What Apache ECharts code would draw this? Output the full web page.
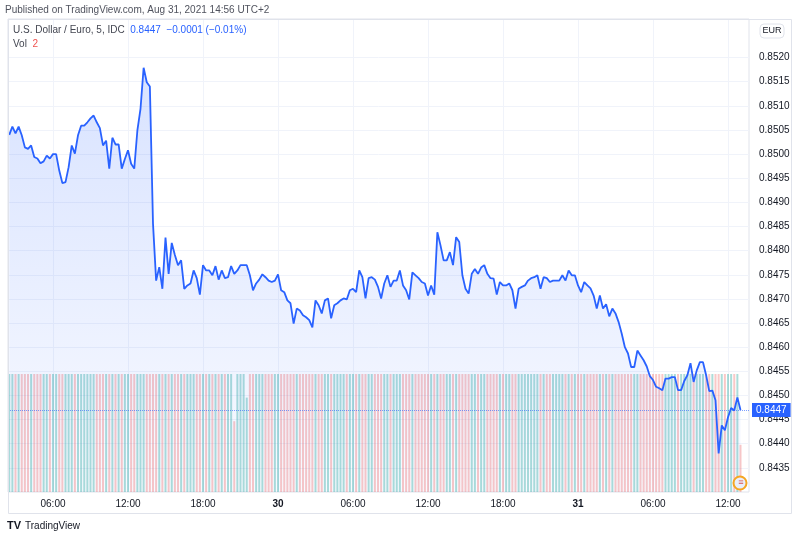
<!DOCTYPE html>
<html>
<head>
<meta charset="utf-8">
<script src="https://cdn.jsdelivr.net/npm/echarts@6/dist/echarts.min.js"></script>
<style>html,body{margin:0;padding:0;background:#fff}#chart{width:800px;height:539px}</style>
</head>
<body>
<div id="chart"></div>
<script>
var mychart = echarts.init(document.getElementById('chart'));

// 15-minute samples, hours counted from Aug 29 00:00
var startHour = 2.5;
var stepHours = 0.25;
// prettier-ignore
var prices = [
    0.85040, 0.85057, 0.85043, 0.85057, 0.85039, 0.85014, 0.85011, 0.85018, 0.84994, 0.84991,
    0.84981, 0.84985, 0.84997, 0.84991, 0.85000, 0.85000, 0.84966, 0.84940, 0.84942, 0.84973,
    0.85018, 0.85001, 0.85039, 0.85059, 0.85059, 0.85066, 0.85074, 0.85080, 0.85066, 0.85054,
    0.85018, 0.85028, 0.84970, 0.85034, 0.85020, 0.85020, 0.84970, 0.84990, 0.85008, 0.84980,
    0.84970, 0.85049, 0.85094, 0.85179, 0.85149, 0.85140, 0.84856, 0.84738, 0.84766, 0.84721,
    0.84827, 0.84752, 0.84816, 0.84791, 0.84770, 0.84780, 0.84721, 0.84728, 0.84732, 0.84759,
    0.84743, 0.84709, 0.84770, 0.84759, 0.84759, 0.84749, 0.84768, 0.84740, 0.84759, 0.84743,
    0.84745, 0.84768, 0.84752, 0.84759, 0.84770, 0.84770, 0.84770, 0.84749, 0.84718, 0.84732,
    0.84740, 0.84751, 0.84745, 0.84738, 0.84735, 0.84738, 0.84751, 0.84718, 0.84714, 0.84697,
    0.84691, 0.84649, 0.84680, 0.84676, 0.84666, 0.84662, 0.84656, 0.84641, 0.84697, 0.84687,
    0.84670, 0.84697, 0.84701, 0.84660, 0.84687, 0.84691, 0.84697, 0.84701, 0.84699, 0.84718,
    0.84721, 0.84714, 0.84759, 0.84745, 0.84701, 0.84743, 0.84745, 0.84740, 0.84725, 0.84701,
    0.84732, 0.84749, 0.84725, 0.84738, 0.84738, 0.84759, 0.84728, 0.84718, 0.84699, 0.84755,
    0.84749, 0.84743, 0.84735, 0.84732, 0.84707, 0.84728, 0.84709, 0.84838, 0.84811, 0.84780,
    0.84780, 0.84797, 0.84770, 0.84828, 0.84818, 0.84749, 0.84721, 0.84711, 0.84752, 0.84762,
    0.84752, 0.84765, 0.84770, 0.84752, 0.84743, 0.84742, 0.84709, 0.84735, 0.84728, 0.84728,
    0.84732, 0.84718, 0.84680, 0.84721, 0.84725, 0.84728, 0.84738, 0.84743, 0.84745, 0.84749,
    0.84721, 0.84745, 0.84743, 0.84735, 0.84738, 0.84738, 0.84738, 0.84749, 0.84738, 0.84759,
    0.84749, 0.84749, 0.84728, 0.84714, 0.84735, 0.84728, 0.84722, 0.84707, 0.84680, 0.84707,
    0.84680, 0.84689, 0.84664, 0.84680, 0.84670, 0.84652, 0.84628, 0.84600, 0.84587, 0.84559,
    0.84559, 0.84593, 0.84583, 0.84573, 0.84560, 0.84540, 0.84532, 0.84518, 0.84515, 0.84511,
    0.84535, 0.84535, 0.84538, 0.84538, 0.84511, 0.84511, 0.84530, 0.84542, 0.84567, 0.84528,
    0.84552, 0.84569, 0.84569, 0.84542, 0.84509, 0.84510, 0.84490, 0.84380, 0.84438, 0.84428,
    0.84455, 0.84474, 0.84469, 0.84496, 0.84470
];
// prettier-ignore
var volumes = [
    5, 5, 5, 5, 5, 5, 5, 5, 5, 5,
    5, 5, 5, 5, 5, 5, 5, 5, 5, 5,
    5, 5, 5, 5, 5, 5, 5, 5, 5, 5,
    5, 5, 5, 5, 5, 5, 5, 5, 5, 5,
    5, 5, 5, 5, 5, 5, 5, 5, 5, 5,
    5, 5, 5, 5, 5, 5, 5, 5, 5, 5,
    5, 5, 5, 5, 5, 5, 5, 5, 5, 5,
    5, 5, 3, 5, 5, 5, 4, 5, 5, 5,
    5, 5, 5, 5, 5, 5, 5, 5, 5, 5,
    5, 5, 5, 5, 5, 5, 5, 5, 5, 5,
    5, 5, 5, 5, 5, 5, 5, 5, 5, 5,
    5, 5, 5, 5, 5, 5, 5, 5, 5, 5,
    5, 5, 5, 5, 5, 5, 5, 5, 5, 5,
    5, 5, 5, 5, 5, 5, 5, 5, 5, 5,
    5, 5, 5, 5, 5, 5, 5, 5, 5, 5,
    5, 5, 5, 5, 5, 5, 5, 5, 5, 5,
    5, 5, 5, 5, 5, 5, 5, 5, 5, 5,
    5, 5, 5, 5, 5, 5, 5, 5, 5, 5,
    5, 5, 5, 5, 5, 5, 5, 5, 5, 5,
    5, 5, 5, 5, 5, 5, 5, 5, 5, 5,
    5, 5, 5, 5, 5, 5, 5, 5, 5, 5,
    5, 5, 5, 5, 5, 5, 5, 5, 5, 5,
    5, 5, 5, 5, 5, 5, 5, 5, 5, 5,
    5, 5, 5, 5, 2
];
// prettier-ignore
var priceTicks = [0.8435, 0.8440, 0.8445, 0.8450, 0.8455, 0.8460, 0.8465, 0.8470, 0.8475,
    0.8480, 0.8485, 0.8490, 0.8495, 0.8500, 0.8505, 0.8510, 0.8515, 0.8520];
var timeTicks = [6, 12, 18, 24, 30, 36, 42, 48, 54, 60];
var timeLabels = ['06:00', '12:00', '18:00', '30', '06:00', '12:00', '18:00', '31', '06:00', '12:00'];
var lastPrice = 0.8447;
var xMin = 2.4, xMax = 61.68;

var font = '"Liberation Sans", Arial, sans-serif';
var upColor = 'rgba(38,166,154,0.38)';
var downColor = 'rgba(239,83,80,0.32)';

var lineData = prices.map(function (p, i) {
    return [startHour + i * stepHours, p];
});
var volData = volumes.map(function (v, i) {
    var up = i === 0 || prices[i] >= prices[i - 1];
    return {
        value: [startHour + i * stepHours, v],
        itemStyle: { color: up ? upColor : downColor }
    };
});

option = {
    backgroundColor: '#ffffff',
    animation: false,
    textStyle: { fontFamily: font },
    title: [
        {
            text: 'Published on TradingView.com, Aug 31, 2021 14:56 UTC+2',
            left: 5, top: 5, padding: 0,
            textStyle: { fontSize: 10, fontWeight: 'normal', color: '#50535e', fontFamily: font }
        },
        {
            text: 'U.S. Dollar / Euro, 5, IDC  {v|0.8447  \u22120.0001 (\u22120.01%)}',
            left: 13, top: 25, padding: 0,
            textStyle: {
                fontSize: 10, fontWeight: 'normal', color: '#434651', fontFamily: font,
                rich: { v: { color: '#2962ff', fontSize: 10, fontFamily: font } }
            }
        },
        {
            text: 'Vol  {r|2}',
            left: 13, top: 39, padding: 0,
            textStyle: {
                fontSize: 10, fontWeight: 'normal', color: '#434651', fontFamily: font,
                rich: { r: { color: '#ef5350', fontSize: 10, fontFamily: font } }
            }
        }
    ],
    grid: [
        { left: 8, right: 51, top: 19, bottom: 47, show: true, borderColor: '#e0e3eb', borderWidth: 1 },
        { left: 8, right: 51, top: 374, height: 118 }
    ],
    xAxis: [
        {
            type: 'value', gridIndex: 0, min: xMin, max: xMax,
            axisLine: { show: false },
            axisTick: { show: false, customValues: timeTicks },
            splitLine: { show: true, lineStyle: { color: '#f0f3fa', width: 1 } },
            axisLabel: {
                customValues: timeTicks,
                margin: 7,
                fontSize: 10,
                color: '#131722',
                fontFamily: font,
                formatter: function (v) {
                    var s = timeLabels[timeTicks.indexOf(Math.round(v))];
                    return s.indexOf(':') < 0 ? '{b|' + s + '}' : s;
                },
                rich: { b: { fontWeight: 'bold', fontSize: 10, color: '#131722', fontFamily: font } }
            }
        },
        {
            type: 'value', gridIndex: 1, min: xMin, max: xMax, show: false,
            splitLine: { show: false }
        }
    ],
    yAxis: [
        {
            type: 'value', gridIndex: 0, position: 'right', min: 0.8430, max: 0.8528,
            axisLine: { show: false },
            axisTick: { show: false, customValues: priceTicks },
            splitLine: { show: true, lineStyle: { color: '#f0f3fa', width: 1 } },
            axisLabel: {
                customValues: priceTicks,
                margin: 10,
                fontSize: 10,
                color: '#131722',
                fontFamily: font,
                formatter: function (v) { return v.toFixed(4); }
            }
        },
        {
            type: 'value', gridIndex: 1, min: 0, max: 5, show: false,
            splitLine: { show: false }
        }
    ],
    series: [
        {
            name: 'Vol',
            type: 'bar',
            xAxisIndex: 1,
            yAxisIndex: 1,
            barWidth: 2,
            z: 1,
            silent: true,
            data: volData
        },
        {
            name: 'USDEUR',
            type: 'line',
            z: 3,
            clip: false,
            symbol: 'none',
            data: lineData,
            lineStyle: { color: '#2962ff', width: 1.8 },
            areaStyle: {
                origin: 'start',
                color: new echarts.graphic.LinearGradient(0, 0, 0, 1, [
                    { offset: 0, color: 'rgba(41,98,255,0.26)' },
                    { offset: 1, color: 'rgba(41,98,255,0.04)' }
                ])
            },
            markLine: {
                silent: true,
                precision: 4,
                symbol: ['none', 'none'],
                lineStyle: { color: 'rgba(41,98,255,0.6)', type: 'dotted', width: 1, opacity: 1 },
                label: {
                    show: true,
                    position: 'end',
                    distance: 3,
                    formatter: lastPrice.toFixed(4),
                    color: '#ffffff',
                    backgroundColor: '#2962ff',
                    opacity: 1,
                    padding: [2, 4, 2, 4],
                    fontSize: 10,
                    fontFamily: font
                },
                data: [[{ coord: [xMin, lastPrice] }, { coord: [xMax, lastPrice] }]]
            }
        }
    ],
    graphic: [
        {
            type: 'rect', silent: true, z: 10,
            shape: { x: 8.5, y: 19.5, width: 783, height: 494 },
            style: { fill: 'none', stroke: '#e0e3eb', lineWidth: 1 }
        },
        {
            type: 'rect', silent: true, z: 10,
            shape: { x: 760, y: 24, width: 24, height: 14, r: 4 },
            style: { fill: '#ffffff', stroke: '#e0e3eb', lineWidth: 1 }
        },
        {
            type: 'text', silent: true, z: 11, x: 772, y: 31,
            style: { text: 'EUR', fill: '#131722', fontSize: 9, fontFamily: font, align: 'center', verticalAlign: 'middle' }
        },
        {
            type: 'circle', silent: true, z: 11,
            shape: { cx: 740, cy: 483, r: 6.5 },
            style: { fill: '#e9eefb', stroke: '#f5a623', lineWidth: 2 }
        },
        {
            type: 'text', silent: true, z: 11, x: 741, y: 483,
            style: { text: '\u2261', fill: '#d9534f', fontSize: 9, align: 'center', verticalAlign: 'middle' }
        },
        {
            type: 'text', silent: true, z: 11, x: 7, y: 526,
            style: { text: 'TV', fill: '#131722', fontSize: 11, fontWeight: 900, fontFamily: 'Liberation Sans', verticalAlign: 'middle' }
        },
        {
            type: 'text', silent: true, z: 11, x: 25, y: 526,
            style: { text: 'TradingView', fill: '#131722', fontSize: 10, fontFamily: font, verticalAlign: 'middle' }
        }
    ]
};
mychart.setOption(option, true);
</script>
</body>
</html>
